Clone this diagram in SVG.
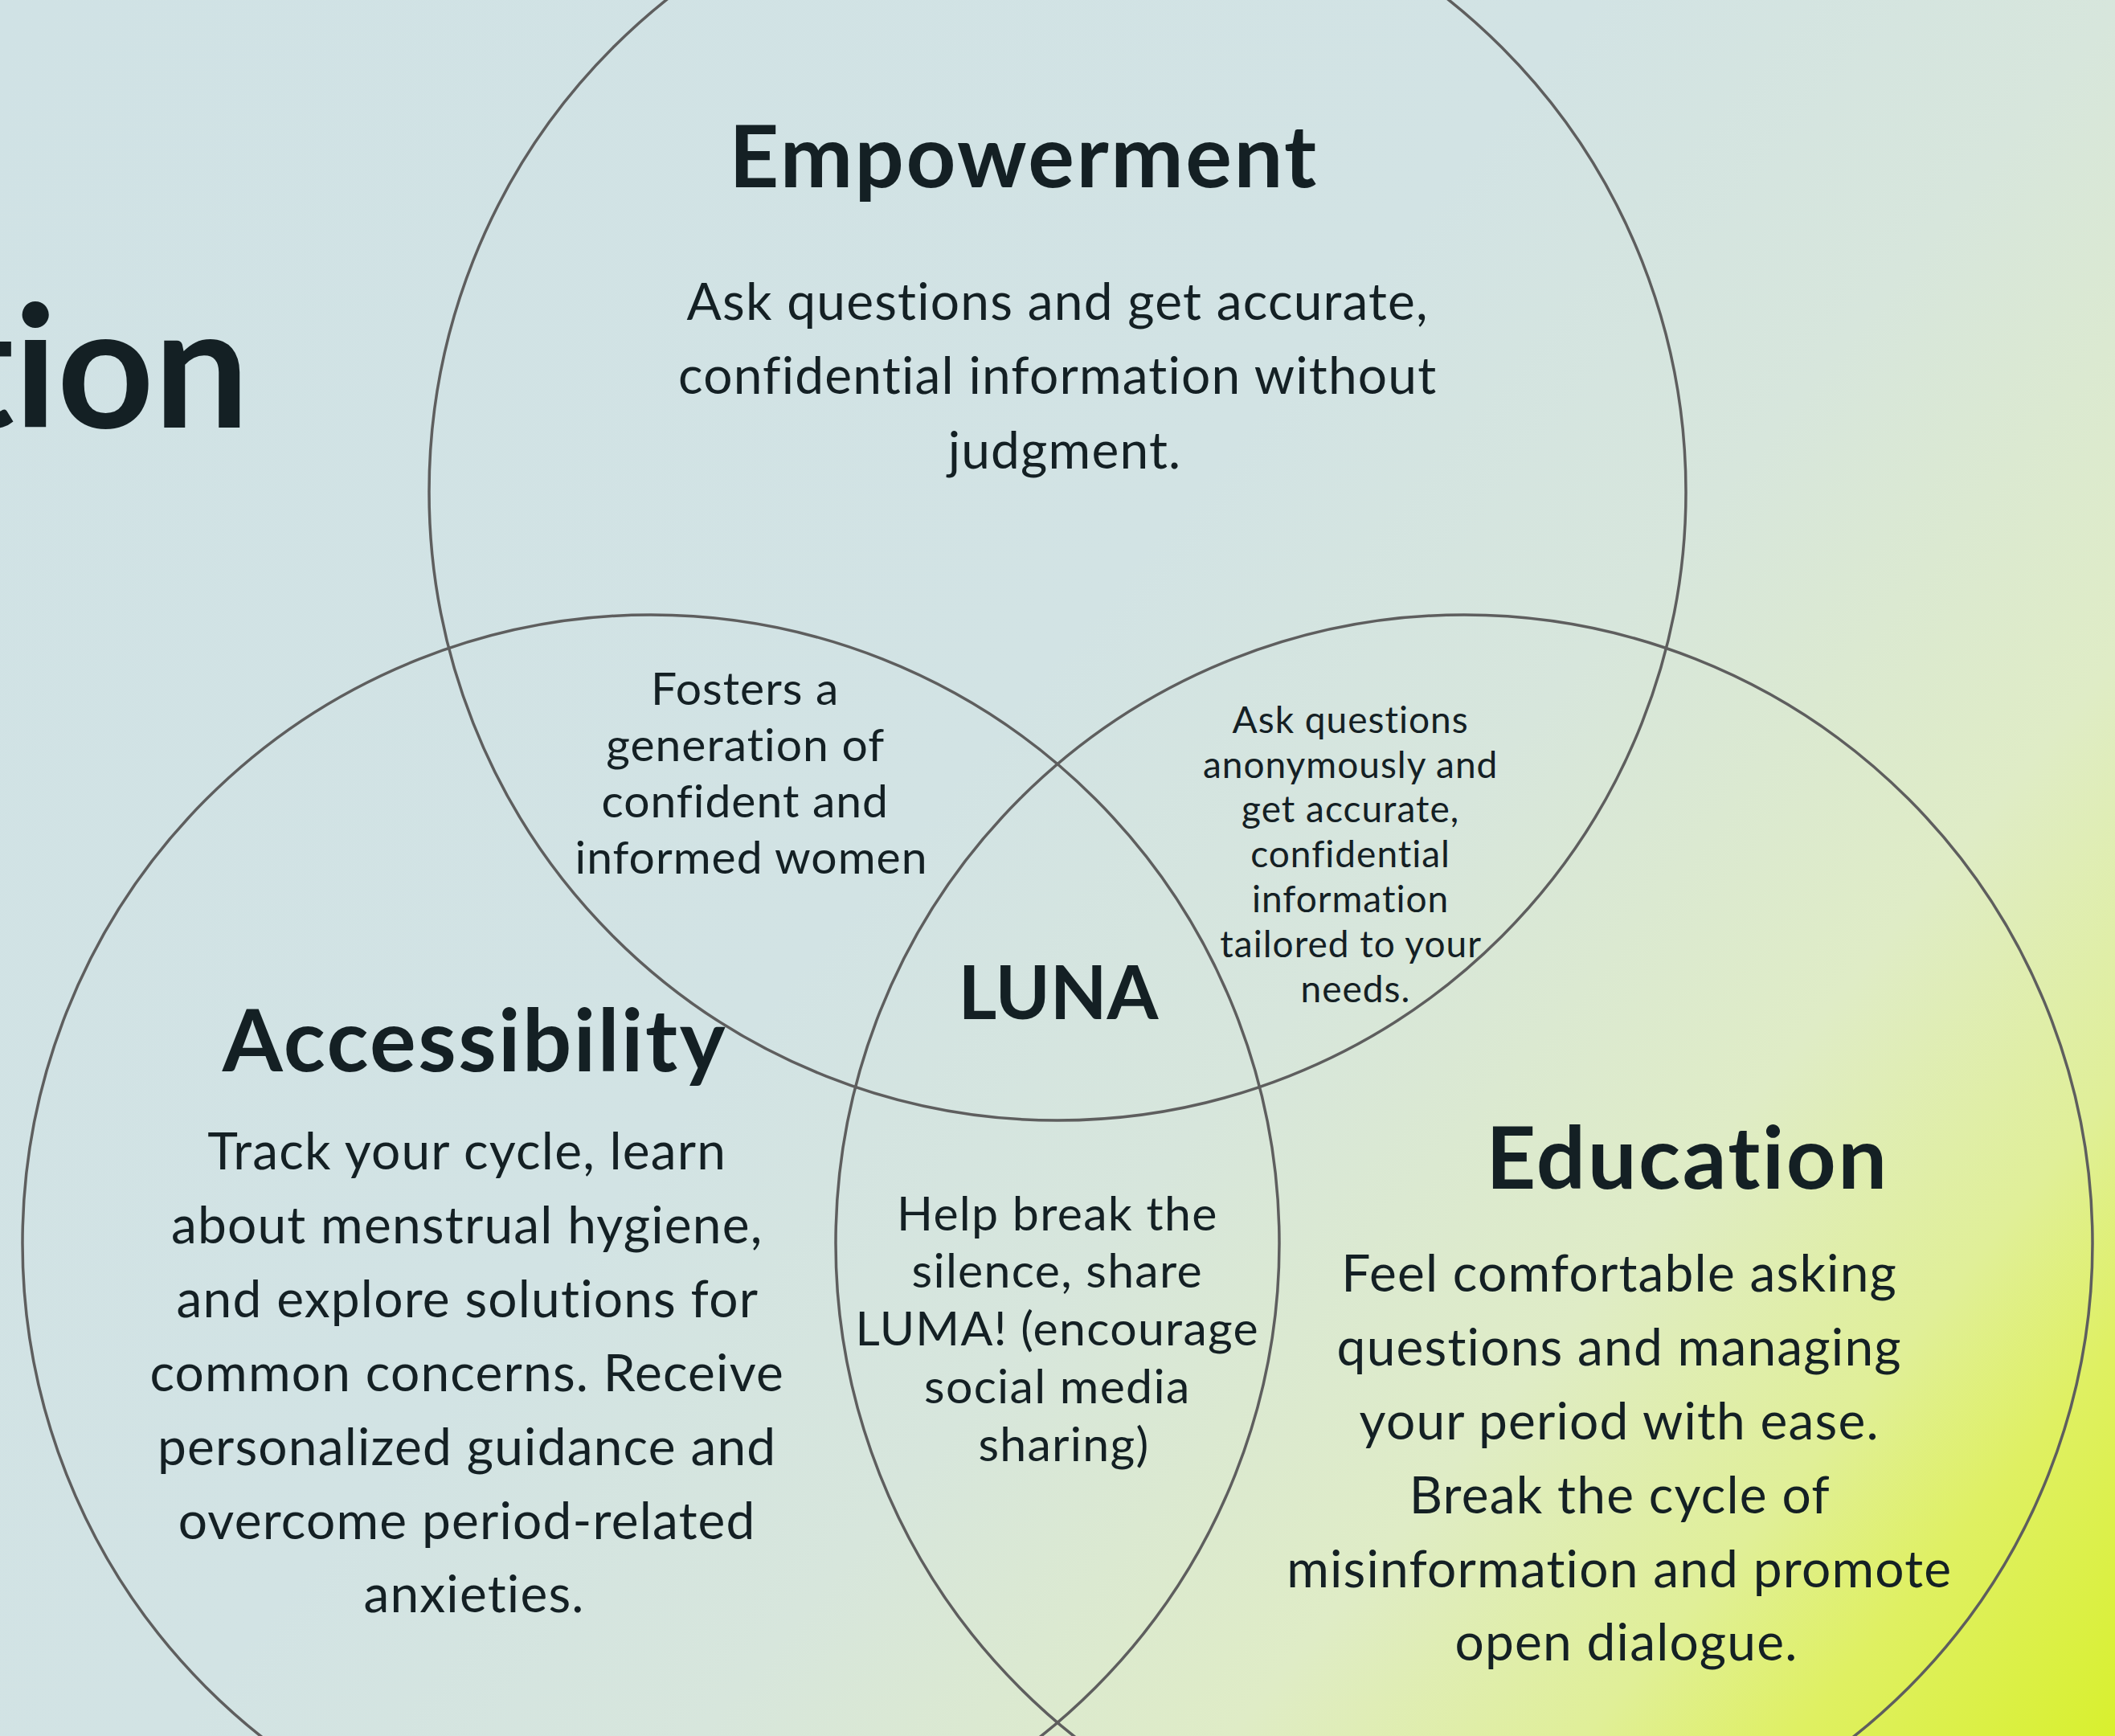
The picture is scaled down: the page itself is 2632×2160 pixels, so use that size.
<svg xmlns="http://www.w3.org/2000/svg" width="2632" height="2160" viewBox="0 0 2632 2160">
  <defs>
    <linearGradient id="bg" gradientUnits="userSpaceOnUse" x1="0" y1="0" x2="2632" y2="2160">
      <stop offset="0" stop-color="#d0e2e5"/>
      <stop offset="0.45" stop-color="#d2e3e4"/>
      <stop offset="0.6" stop-color="#d7e6dc"/>
      <stop offset="0.75" stop-color="#dfecc6"/>
      <stop offset="0.85" stop-color="#e0ef98"/>
      <stop offset="0.91" stop-color="#dff062"/>
      <stop offset="1" stop-color="#d8f02e"/>
    </linearGradient>
    <style>
      .ring { fill: none; stroke: #5e5e5e; stroke-width: 3.5; }
      text { font-family: Lato, "Noto Sans", sans-serif; fill: #142024; text-anchor: middle;
             font-variant-ligatures: none; font-feature-settings: "liga" 0, "dlig" 0; }
      .title { font-weight: 700; font-size: 210px; text-anchor: end; }
      .head { font-weight: 700; font-size: 108px; letter-spacing: 2.5px; }
      .core { font-weight: 700; font-size: 92px; }
      .body { font-size: 64px; letter-spacing: 1.2px; }
      .lens { font-size: 57px; letter-spacing: 1px; }
      .lens2 { font-size: 59px; letter-spacing: 1.3px; }
      .small { font-size: 46px; letter-spacing: 1px; }
    </style>
  </defs>

  <!-- background -->
  <rect x="0" y="0" width="2632" height="2160" fill="url(#bg)"/>

  <!-- partial page title at the left edge -->
  <text class="title" x="310" y="532">tion</text>

  <!-- Venn rings -->
  <g id="connectors">
    <circle class="ring" cx="1316" cy="612" r="782"/>
    <circle class="ring" cx="810" cy="1547" r="782"/>
    <circle class="ring" cx="1822" cy="1547" r="782"/>
  </g>

  <!-- Empowerment -->
  <g id="empowerment">
    <text class="head" x="1274" y="233">Empowerment</text>
    <text class="body" x="1325">
      <tspan x="1325" y="398">Ask questions and get accurate,</tspan>
      <tspan x="1325" y="490">confidential information without</tspan>
      <tspan x="1325" y="583">judgment.</tspan>
    </text>
  </g>

  <!-- Accessibility -->
  <g id="accessibility">
    <text class="head" x="591" y="1333">Accessibility</text>
    <text class="body" x="590">
      <tspan x="590" y="1455">Track your cycle, learn</tspan>
      <tspan x="590" y="1547">about menstrual hygiene,</tspan>
      <tspan x="590" y="1639">and explore solutions for</tspan>
      <tspan x="590" y="1731">common concerns. Receive</tspan>
      <tspan x="590" y="1823">personalized guidance and</tspan>
      <tspan x="590" y="1915">overcome period-related</tspan>
      <tspan x="590" y="2006">anxieties.</tspan>
    </text>
  </g>

  <!-- Education -->
  <g id="education">
    <text class="head" x="2100" y="1479">Education</text>
    <text class="body" x="2024">
      <tspan x="2024" y="1607">Feel comfortable asking</tspan>
      <tspan x="2024" y="1699">questions and managing</tspan>
      <tspan x="2024" y="1791">your period with ease.</tspan>
      <tspan x="2024" y="1883">Break the cycle of</tspan>
      <tspan x="2024" y="1975">misinformation and promote</tspan>
      <tspan x="2024" y="2066">open dialogue.</tspan>
    </text>
  </g>

  <!-- Empowerment + Accessibility -->
  <g id="overlap-empowerment-accessibility">
    <text class="lens" x="935">
      <tspan x="935" y="877">Fosters a</tspan>
      <tspan x="935" y="947">generation of</tspan>
      <tspan x="935" y="1017">confident and</tspan>
      <tspan x="935" y="1087">informed women</tspan>
    </text>
  </g>

  <!-- Empowerment + Education -->
  <g id="overlap-empowerment-education">
    <text class="small" x="1687">
      <tspan x="1687" y="912">Ask questions</tspan>
      <tspan x="1687" y="968">anonymously and</tspan>
      <tspan x="1687" y="1023">get accurate,</tspan>
      <tspan x="1687" y="1079">confidential</tspan>
      <tspan x="1687" y="1135">information</tspan>
      <tspan x="1687" y="1191">tailored to your</tspan>
      <tspan x="1687" y="1247">needs.</tspan>
    </text>
  </g>

  <!-- Accessibility + Education -->
  <g id="overlap-accessibility-education">
    <text class="lens2" x="1324">
      <tspan x="1324" y="1531">Help break the</tspan>
      <tspan x="1324" y="1602">silence, share</tspan>
      <tspan x="1324" y="1674">LUMA! (encourage</tspan>
      <tspan x="1324" y="1746">social media</tspan>
      <tspan x="1324" y="1818">sharing)</tspan>
    </text>
  </g>

  <!-- centre -->
  <g id="luna">
    <text class="core" x="1317" y="1268">LUNA</text>
  </g>
</svg>
